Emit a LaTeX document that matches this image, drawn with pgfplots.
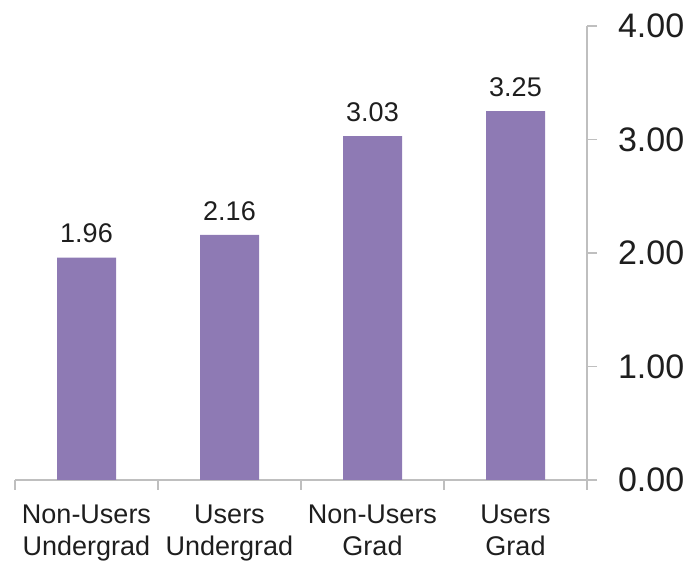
\documentclass[border=0pt]{standalone}
\usepackage{pgfplots}
\pgfplotsset{compat=1.18}
\usepackage{fontspec}
\setmainfont{Liberation Sans}
\definecolor{barc}{RGB}{142,122,180}
\definecolor{axc}{RGB}{191,191,191}
\definecolor{txt}{RGB}{30,30,30}
\begin{document}
\begin{tikzpicture}
\begin{axis}[
  at={(7.5pt,42.5pt)}, anchor=south west,
  scale only axis, width=286pt, height=227pt,
  xmin=-0.5, xmax=3.5, ymin=0, ymax=4,
  axis y line*=right, axis x line*=bottom,
  axis line style={axc, line width=0.9pt},
  ybar, bar width=29.5pt,
  xtick={0,1,2,3},
  xticklabels={{Non-Users\\Undergrad},{Users\\Undergrad},{Non-Users\\Grad},{Users\\Grad}},
  xticklabel style={align=center, font=\fontsize{13.5}{16}\selectfont, text=txt, yshift=-4pt},
  major x tick style={draw=none},
  minor xtick={-0.5,0.5,1.5,2.5,3.5},
  minor x tick style={axc, line width=0.9pt},
  minor tick length=5pt,
  tick align=outside,
  ytick={0,1,2,3,4},
  major tick length=5pt,
  y tick style={axc, line width=0.9pt},
  yticklabel style={font=\fontsize{17}{20}\selectfont, text=txt, xshift=7pt},
  /pgf/number format/assume math mode=true,
  yticklabel={\pgfmathprintnumber[fixed,fixed zerofill,precision=2]{\tick}},
  nodes near coords,
  nodes near coords style={font=\fontsize{13.5}{15}\selectfont, text=txt, inner sep=0pt, yshift=7pt, anchor=south,
    /pgf/number format/.cd, fixed, fixed zerofill, precision=2, assume math mode=true},
]
\addplot[fill=barc, draw=none] coordinates {(0,1.96) (1,2.16) (2,3.03) (3,3.25)};
\end{axis}
\pgfresetboundingbox
\path[use as bounding box] (0,0) rectangle (345pt,282.5pt);
\end{tikzpicture}
\end{document}
